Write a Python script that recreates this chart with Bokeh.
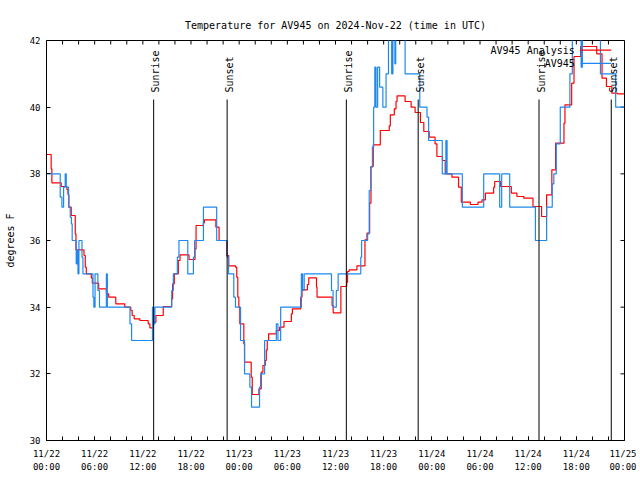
import math
from bokeh.plotting import figure
from bokeh.models import Range1d, FixedTicker, Label
from bokeh.embed import file_html
from bokeh.resources import INLINE

TITLE = "Temperature for AV945 on 2024-Nov-22 (time in UTC)"
Y_LABEL = "degrees F"
SERIES_NAMES = ["AV945 Analysis", "AV945"]

# hours since 2024-11-22 00:00 UTC
obs_hours = [0.0, 1.71, 1.92, 2.13, 2.33, 2.46, 2.75, 2.96, 3.1, 3.2, 3.7, 3.8, 3.92, 4.04,
             4.42, 4.54, 5.79, 5.9, 6.05, 6.4, 6.6, 7.46, 7.58, 10.4, 10.6, 13.2, 13.33,
             13.5, 15.6, 15.8, 16.3, 16.5, 17.6, 18.3, 18.45, 19.55, 21.2, 22.5, 22.67,
             23.33, 23.54, 24.17, 24.67, 25.33, 25.54, 26.54, 26.67, 27.17, 28.63, 28.83,
             29.17, 31.75, 31.9, 32.1, 35.5, 35.7, 36.1, 36.33, 39.15, 39.25, 40.0, 40.2,
             40.4, 40.6, 40.75, 40.9, 41.05, 41.25, 41.5, 41.9, 42.3, 42.6, 43.0, 43.15,
             43.4, 43.5, 44.67, 46.5, 47.4, 47.6, 49.3, 49.75, 49.9, 51.8, 54.46, 56.45,
             56.7, 57.7, 60.9, 62.3, 63.0, 63.2, 63.5, 64.0, 65.2, 65.5, 66.6, 66.75,
             69.0, 70.9, 72.0]
obs_temp = [38.0, 37.3, 37.0, 37.6, 38.0, 37.6, 37.0, 36.7, 36.5, 36.0, 35.3, 35.7, 35.0, 36.0,
            35.5, 35.0, 34.3, 34.0, 35.0, 34.5, 34.0, 35.0, 34.0, 33.5, 33.0, 34.0, 33.5,
            34.0, 34.5, 35.0, 35.5, 36.0, 35.0, 35.5, 36.0, 37.0, 36.0, 35.5, 35.0,
            34.3, 34.0, 33.0, 32.0, 31.6, 31.0, 31.6, 32.0, 33.0, 33.5, 33.0,
            34.0, 35.0, 34.5, 35.0, 34.5, 34.0, 34.5, 35.0, 35.5, 36.0, 36.2, 37.5,
            38.2, 38.8, 40.0, 41.2, 40.0, 41.2, 40.6, 40.0, 41.0, 42.5, 41.0, 42.5,
            41.3, 42.5, 41.0, 40.0, 39.7, 39.0, 38.0, 39.0, 38.0, 37.0, 38.0, 37.0,
            38.0, 37.0, 36.0, 37.0, 37.7, 38.0, 38.9, 40.0, 41.0, 42.5, 41.2, 42.5,
            41.0, 40.0, 40.0]

ana_hours = [0.0, 0.58, 0.67, 1.83, 2.54, 2.67, 2.79, 3.08, 3.58, 3.67, 4.67, 4.83, 4.96,
             5.58, 5.71, 6.5, 7.46, 7.75, 8.63, 9.75, 10.5, 10.67, 10.92, 11.63, 12.67,
             12.88, 13.29, 13.63, 14.54, 15.58, 15.71, 15.92, 16.42, 16.63, 17.75, 18.5,
             18.63, 19.54, 19.67, 21.1, 21.5, 22.45, 22.7, 23.54, 23.7, 23.83, 23.96, 24.08,
             24.58, 24.67, 25.5, 25.63, 26.46, 26.75, 26.96, 27.25, 27.38, 27.5, 27.67,
             28.63, 29.04, 29.58, 30.5, 30.63, 31.67, 31.83, 32.5, 32.67, 33.63, 33.7,
             35.58, 35.71, 36.67, 37.4, 37.5, 37.7, 38.67, 39.67, 39.92, 40.25, 40.42,
             40.7, 41.58, 42.7, 42.83, 43.33, 43.54, 43.67, 44.67, 45.42, 45.92, 46.58,
             47.0, 47.67, 48.4, 48.63, 49.33, 49.67, 50.5, 51.33, 51.67, 52.8, 53.75,
             54.25, 54.67, 55.7, 55.83, 56.54, 57.9, 58.6, 59.46, 60.6, 61.67, 62.3,
             62.95, 63.42, 64.46, 64.58, 65.42, 65.71, 66.54, 68.54, 69.2, 69.75, 70.42,
             71.13, 72.0]
ana_temp = [38.58, 38.15, 37.73, 37.62, 37.53, 37.38, 37.0, 36.75, 36.2, 35.72, 35.55, 35.2, 35.0,
            34.88, 34.72, 34.55, 34.4, 34.3, 34.1, 34.0, 33.9, 33.75, 33.65, 33.6, 33.5,
            33.38, 33.55, 33.75, 34.02, 34.25, 34.7, 35.0, 35.4, 35.57, 35.43, 35.75,
            36.45, 36.53, 36.62, 36.4, 36.0, 35.55, 35.24, 35.2, 34.9, 34.3, 34.0, 33.5,
            32.9, 32.35, 31.9, 31.38, 31.55, 32.05, 32.25, 32.4, 32.72, 33.0, 33.2,
            33.3, 33.4, 33.57, 33.8, 33.95, 34.3, 34.52, 34.68, 34.88, 34.6, 34.3,
            34.05, 33.83, 34.62, 34.75, 35.07, 35.12, 35.24, 36.02, 36.22, 37.12, 38.22,
            38.87, 39.3, 39.44, 39.77, 39.95, 40.17, 40.34, 40.17, 40.0, 39.84, 39.54,
            39.27, 39.1, 38.9, 38.52, 38.4, 38.0, 37.9, 37.6, 37.15, 37.08, 37.15,
            37.22, 37.42, 37.6, 37.77, 37.62, 37.42, 37.32, 37.27, 37.02, 36.72, 37.37,
            38.12, 38.92, 39.52, 40.07, 40.72, 41.52, 41.82, 41.6, 40.87, 40.62, 40.42,
            40.4, 40.4]

sun_hours = [13.35, 22.5, 37.35, 46.3, 61.35, 70.35]
sun_names = ["Sunrise", "Sunset", "Sunrise", "Sunset", "Sunrise", "Sunset"]

x_tick_hours = [0, 6, 12, 18, 24, 30, 36, 42, 48, 54, 60, 66, 72]
x_tick_labels = ["11/22\n00:00", "11/22\n06:00", "11/22\n12:00", "11/22\n18:00",
                 "11/23\n00:00", "11/23\n06:00", "11/23\n12:00", "11/23\n18:00",
                 "11/24\n00:00", "11/24\n06:00", "11/24\n12:00", "11/24\n18:00",
                 "11/25\n00:00"]
x_minor_hours = list(range(0, 73, 2))
y_ticks = [30, 32, 34, 36, 38, 40, 42]

RED = "#ff0000"
BLUE = "#1e88f0"
MONO = "DejaVu Sans Mono"

X0, X1 = 0, 72
Y0, Y1 = 30, 42
FRAME_W, FRAME_H = 578, 400
TICK_PX = 4

p = figure(width=636, height=476, x_range=Range1d(X0, X1), y_range=Range1d(Y0, Y1),
           output_backend="svg", toolbar_location=None,
           min_border_left=46, min_border_right=12, min_border_top=40, min_border_bottom=36,
           title=TITLE)
p.grid.visible = False
p.outline_line_color = "black"
p.outline_line_width = 1
p.outline_line_alpha = 1.0
p.background_fill_color = "white"
p.border_fill_color = "white"

p.title.align = "center"
p.title.text_font = MONO
p.title.text_font_size = "10px"
p.title.text_font_style = "normal"
p.title.text_color = "black"
p.title.standoff = 20

xt = FixedTicker(ticks=x_tick_hours, minor_ticks=x_minor_hours)
yt = FixedTicker(ticks=y_ticks, minor_ticks=[])

xa = p.xaxis[0]
xa.ticker = xt
xa.major_label_overrides = {h: lbl for h, lbl in zip(x_tick_hours, x_tick_labels)}
xa.axis_line_color = None
xa.major_tick_in = TICK_PX
xa.major_tick_out = 0
xa.minor_tick_in = TICK_PX
xa.minor_tick_out = 0
xa.major_tick_line_color = "black"
xa.minor_tick_line_color = "black"
xa.major_label_text_font = MONO
xa.major_label_text_color = "black"
xa.major_label_text_font_size = "9px"
xa.major_label_text_line_height = 1.3
xa.major_label_standoff = 8

ya = p.yaxis[0]
ya.ticker = yt
ya.axis_line_color = None
ya.major_tick_in = TICK_PX
ya.major_tick_out = 0
ya.minor_tick_in = 0
ya.minor_tick_out = 0
ya.major_tick_line_color = "black"
ya.major_label_text_font = MONO
ya.major_label_text_color = "black"
ya.major_label_text_font_size = "9px"
ya.major_label_standoff = 6
ya.axis_label = Y_LABEL
ya.axis_label_text_font = MONO
ya.axis_label_text_font_size = "10px"
ya.axis_label_text_font_style = "normal"
ya.axis_label_text_color = "black"
ya.axis_label_standoff = 11

# mirrored inward ticks on top and right edges
dy_tick = TICK_PX / FRAME_H * (Y1 - Y0)
dx_tick = TICK_PX / FRAME_W * (X1 - X0)
p.segment(x0=x_minor_hours, y0=[Y1] * len(x_minor_hours),
          x1=x_minor_hours, y1=[Y1 - dy_tick] * len(x_minor_hours),
          line_color="black", line_width=1)
p.segment(x0=[X1] * len(y_ticks), y0=y_ticks, x1=[X1 - dx_tick] * len(y_ticks), y1=y_ticks,
          line_color="black", line_width=1)

# data series
p.step(x=ana_hours, y=ana_temp, mode="after", line_color=RED, line_width=1.2)
p.step(x=obs_hours, y=obs_temp, mode="after", line_color=BLUE, line_width=1.2)

# sunrise / sunset markers
line_top = Y1 - 0.1475 * (Y1 - Y0)
label_y = Y1 - 0.13 * (Y1 - Y0)
p.segment(x0=sun_hours, y0=[Y0] * len(sun_hours), x1=sun_hours, y1=[line_top] * len(sun_hours),
          line_color="black", line_width=1)
for h, name in zip(sun_hours, sun_names):
    p.add_layout(Label(x=h, y=label_y, text=name, angle=math.pi / 2,
                       text_align="left", text_baseline="middle", x_offset=2,
                       text_font=MONO, text_font_size="10px", text_color="black"))

# legend (text to the left of the sample line)
leg_text_x = X0 + 0.914 * (X1 - X0)
leg_x0 = X0 + 0.924 * (X1 - X0)
leg_x1 = X0 + 0.977 * (X1 - X0)
leg_rows = [Y1 - 0.024 * (Y1 - Y0), Y1 - 0.057 * (Y1 - Y0)]
for name, color, yy in zip(SERIES_NAMES, [RED, BLUE], leg_rows):
    p.add_layout(Label(x=leg_text_x, y=yy, text=name, text_align="right",
                       text_baseline="middle", text_font=MONO, text_font_size="10px",
                       text_color="black"))
    p.segment(x0=[leg_x0], y0=[yy], x1=[leg_x1], y1=[yy], line_color=color, line_width=1.2)

open("out.html", "w").write(file_html(p, INLINE))
